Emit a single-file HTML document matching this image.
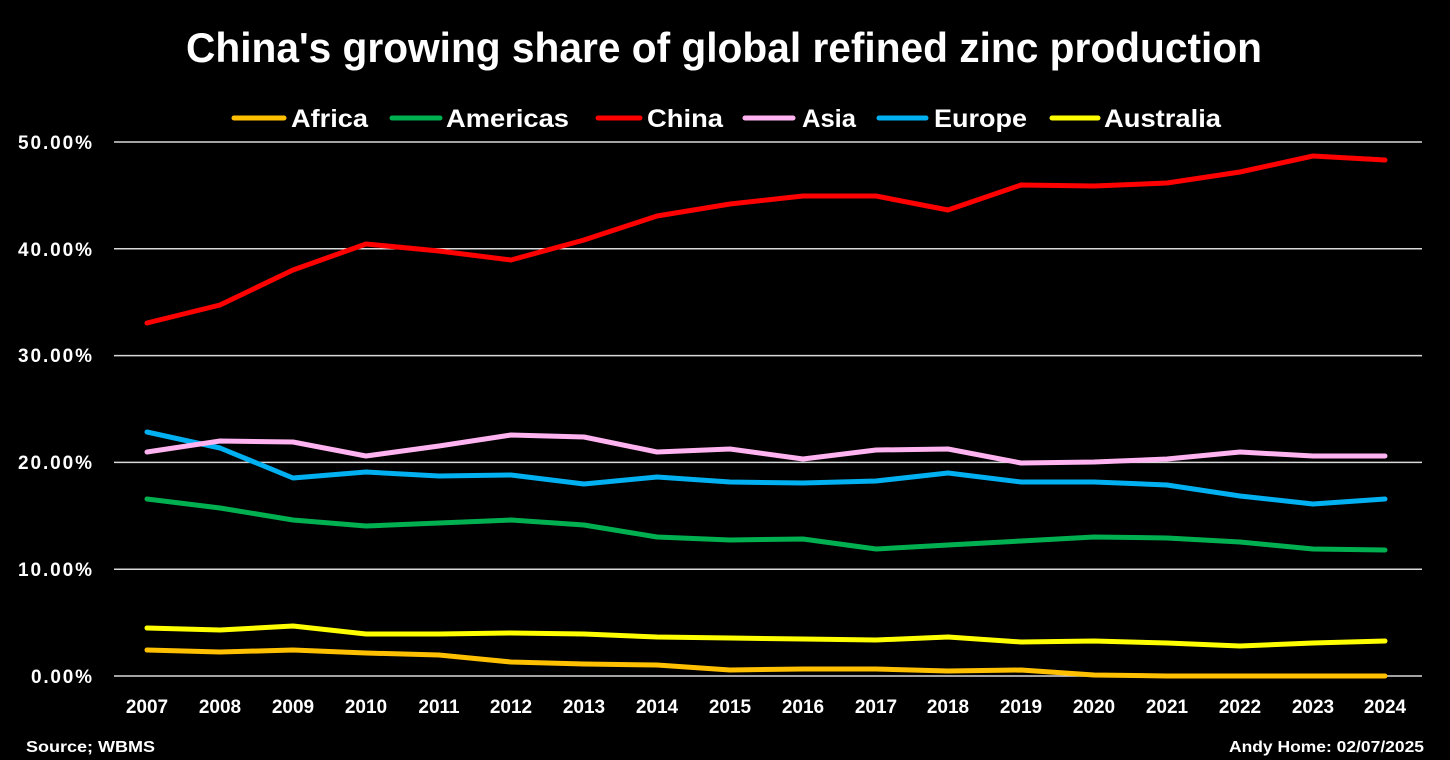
<!DOCTYPE html>
<html><head><style>html,body{margin:0;padding:0;background:#000;}svg{display:block;}</style></head>
<body>
<svg width="1450" height="760" xmlns="http://www.w3.org/2000/svg" font-family="Liberation Sans, sans-serif" font-weight="bold">
<rect width="1450" height="760" fill="#000"/>
<text x="724" y="62" fill="#fff" font-size="42" text-anchor="middle" textLength="1076" lengthAdjust="spacingAndGlyphs">China's growing share of global refined zinc production</text>
<g stroke-width="5" stroke-linecap="round">
<line x1="234" y1="118" x2="284" y2="118" stroke="#FFC000"/>
<line x1="392" y1="118" x2="440" y2="118" stroke="#00B050"/>
<line x1="598" y1="118" x2="640" y2="118" stroke="#FF0000"/>
<line x1="745" y1="118" x2="793" y2="118" stroke="#FFB3F0"/>
<line x1="879" y1="118" x2="926" y2="118" stroke="#00B0F0"/>
<line x1="1052" y1="118" x2="1098" y2="118" stroke="#FFFF00"/>
</g>
<g fill="#fff" font-size="25">
<text x="291" y="127" textLength="77" lengthAdjust="spacingAndGlyphs">Africa</text>
<text x="446" y="127" textLength="123" lengthAdjust="spacingAndGlyphs">Americas</text>
<text x="647" y="127" textLength="76" lengthAdjust="spacingAndGlyphs">China</text>
<text x="802" y="127" textLength="54" lengthAdjust="spacingAndGlyphs">Asia</text>
<text x="934" y="127" textLength="93" lengthAdjust="spacingAndGlyphs">Europe</text>
<text x="1104" y="127" textLength="117" lengthAdjust="spacingAndGlyphs">Australia</text>
</g>
<g stroke="#d9d9d9" stroke-width="1.5">
<line x1="114" y1="142" x2="1422" y2="142"/>
<line x1="114" y1="248.8" x2="1422" y2="248.8"/>
<line x1="114" y1="355.6" x2="1422" y2="355.6"/>
<line x1="114" y1="462.4" x2="1422" y2="462.4"/>
<line x1="114" y1="569.2" x2="1422" y2="569.2"/>
<line x1="114" y1="676" x2="1422" y2="676"/>
</g>
<g fill="#fff" font-size="19" lengthAdjust="spacingAndGlyphs">
<text x="18" y="149" textLength="74">50.00%</text>
<text x="18" y="256" textLength="74">40.00%</text>
<text x="18" y="362" textLength="74">30.00%</text>
<text x="18" y="469" textLength="74">20.00%</text>
<text x="18" y="576" textLength="74">10.00%</text>
<text x="31" y="683" textLength="61">0.00%</text>
</g>
<g fill="#fff" font-size="19" text-anchor="middle">
<text x="147" y="713">2007</text><text x="220" y="713">2008</text><text x="293" y="713">2009</text><text x="366" y="713">2010</text><text x="439" y="713">2011</text><text x="511" y="713">2012</text><text x="584" y="713">2013</text><text x="657" y="713">2014</text><text x="730" y="713">2015</text><text x="803" y="713">2016</text><text x="876" y="713">2017</text><text x="948" y="713">2018</text><text x="1021" y="713">2019</text><text x="1094" y="713">2020</text><text x="1167" y="713">2021</text><text x="1240" y="713">2022</text><text x="1313" y="713">2023</text><text x="1385" y="713">2024</text>
</g>
<g fill="none" stroke-width="5" stroke-linejoin="round" stroke-linecap="round">
<polyline stroke="#FFC000" points="147,650 220,652 293,650 366,653 439,655 511,662 584,664 657,665 730,670 803,669 876,669 948,671 1021,670 1094,675 1167,676 1240,676 1313,676 1385,676"/>
<polyline stroke="#FFFF00" points="147,628 220,630 293,626 366,634 439,634 511,633 584,634 657,637 730,638 803,639 876,640 948,637 1021,642 1094,641 1167,643 1240,646 1313,643 1385,641"/>
<polyline stroke="#00B050" points="147,499 220,508 293,520 366,526 439,523 511,520 584,525 657,537 730,540 803,539 876,549 948,545 1021,541 1094,537 1167,538 1240,542 1313,549 1385,550"/>
<polyline stroke="#00B0F0" points="147,432 220,448 293,478 366,472 439,476 511,475 584,484 657,477 730,482 803,483 876,481 948,473 1021,482 1094,482 1167,485 1240,496 1313,504 1385,499"/>
<polyline stroke="#FFB3F0" points="147,452 220,441 293,442 366,456 439,446 511,435 584,437 657,452 730,449 803,459 876,450 948,449 1021,463 1094,462 1167,459 1240,452 1313,456 1385,456"/>
<polyline stroke="#FF0000" points="147,323 220,305 293,270 366,244 439,251 511,260 584,240 657,216 730,204 803,196 876,196 948,210 1021,185 1094,186 1167,183 1240,172 1313,156 1385,160"/>
</g>
<text x="26" y="752" fill="#fff" font-size="16" textLength="129" lengthAdjust="spacingAndGlyphs">Source; WBMS</text>
<text x="1229" y="752" fill="#fff" font-size="16" textLength="195" lengthAdjust="spacingAndGlyphs">Andy Home: 02/07/2025</text>
</svg>
</body></html>
